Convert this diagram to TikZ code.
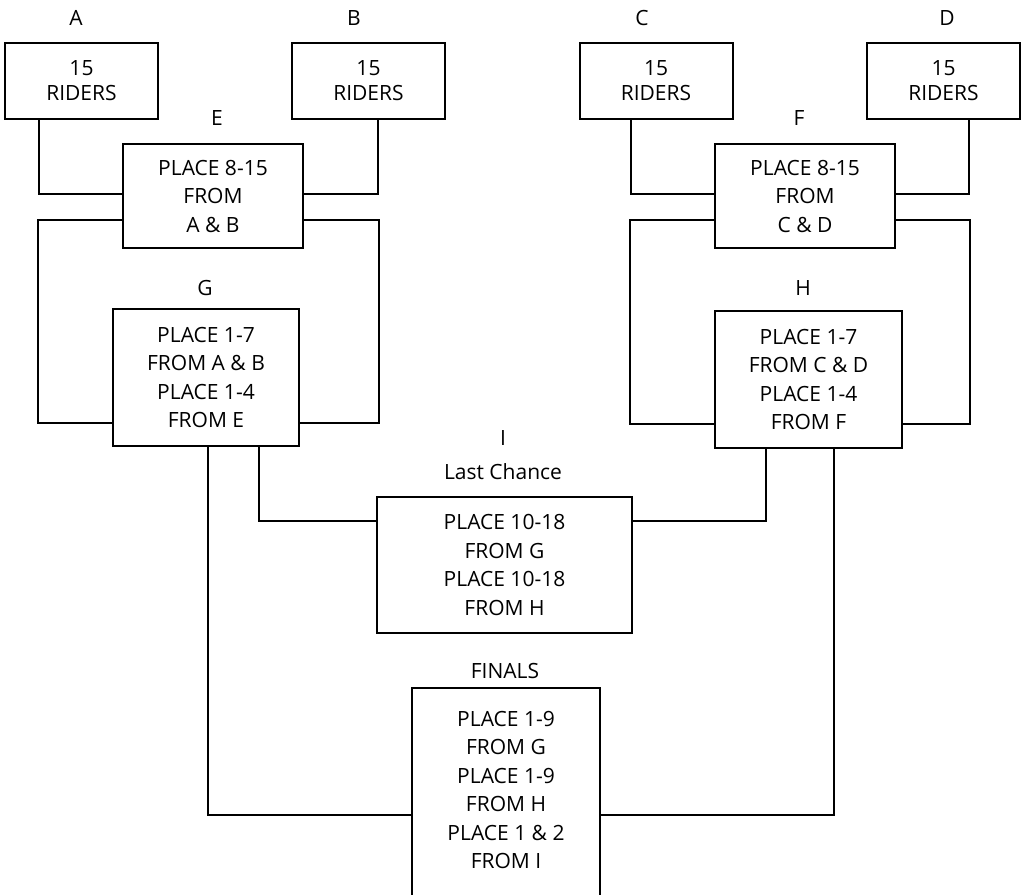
\documentclass[tikz,border=0pt]{standalone}
\usepackage{fontspec}
\setmainfont{Open Sans}
\usepackage{tikz}

\tikzset{
    box/.style={draw, line width=2pt, align=center, inner sep=0pt, font=\fontsize{21}{28.5}\selectfont},
    riders/.style={box, minimum width=153pt, minimum height=76pt, font=\fontsize{21}{25}\selectfont},
    tag/.style={inner sep=0pt, font=\fontsize{21}{25}\selectfont},
    wire/.style={line width=2pt}
}

\begin{document}
\begin{tikzpicture}[x=1pt, y=-1pt]
            \useasboundingbox (0,0) rectangle (1022,894);

            \foreach \n/\x/\lx in {A/81.5/76, B/368.5/354, C/656/642, D/943.5/947}
            {
                \node [riders] (\n) at (\x, 81) {15\\RIDERS};
                \node [tag] (tag\n) at (\lx, 18) {\n};
            }

            \node [box, minimum width=180pt, minimum height=104pt] (E) at (213,196) {PLACE 8-15\\FROM\\A \& B};
            \node [tag] (tagE) at (217,118) {E};
            \node [box, minimum width=180pt, minimum height=104pt] (F) at (805,196) {PLACE 8-15\\FROM\\C \& D};
            \node [tag] (tagF) at (799,118) {F};

            \node [box, minimum width=186pt, minimum height=137pt] (G) at (206,377.5) {PLACE 1-7\\FROM A \& B\\PLACE 1-4\\FROM E};
            \node [tag] (tagG) at (205,288) {G};
            \node [box, minimum width=187pt, minimum height=137pt] (H) at (808.5,379.5) {PLACE 1-7\\FROM C \& D\\PLACE 1-4\\FROM F};
            \node [tag] (tagH) at (803,288) {H};

            \node [box, minimum width=255pt, minimum height=136pt] (I) at (504.5,565) {PLACE 10-18\\FROM G\\PLACE 10-18\\FROM H};
            \node [tag] (tagI) at (503,438) {I};
            \node [tag] (lastchance) at (503,472) {Last Chance};

            \node [box, draw=none, minimum width=186pt, minimum height=202pt] (fin) at (506,790) {PLACE 1-9\\FROM G\\PLACE 1-9\\FROM H\\PLACE 1 \& 2\\FROM I};
            \node [tag] (tagfin) at (505,671) {FINALS};
            \draw [wire] ([yshift=-20pt]fin.south west) |- (fin.north) -| ([yshift=-20pt]fin.south east);

            \draw [wire] ([xshift=-42.5pt]A.south) |- ([yshift=2pt]E.west);
            \draw [wire] ([xshift=9.5pt]B.south) |- ([yshift=2pt]E.east);
            \draw [wire] ([xshift=-25pt]C.south) |- ([yshift=2pt]F.west);
            \draw [wire] ([xshift=25.5pt]D.south) |- ([yshift=2pt]F.east);

            \draw [wire] ([yshift=-24pt]E.west) -| ([xshift=-74pt, yshift=-45.5pt]G.west) -- ([yshift=-45.5pt]G.west);
            \draw [wire] ([yshift=-24pt]E.east) -| ([xshift=79pt, yshift=-45.5pt]G.east) -- ([yshift=-45.5pt]G.east);
            \draw [wire] ([yshift=-24pt]F.west) -| ([xshift=-84pt, yshift=-44.5pt]H.west) -- ([yshift=-44.5pt]H.west);
            \draw [wire] ([yshift=-24pt]F.east) -| ([xshift=67pt, yshift=-44.5pt]H.east) -- ([yshift=-44.5pt]H.east);

            \draw [wire] ([xshift=53pt]G.south) |- ([yshift=44pt]I.west);
            \draw [wire] ([xshift=-42.5pt]H.south) |- ([yshift=44pt]I.east);
            \draw [wire] ([xshift=2pt]G.south) |- ([yshift=-25pt]fin.west);
            \draw [wire] ([xshift=25.5pt]H.south) |- ([yshift=-25pt]fin.east);

           \end{tikzpicture}
\end{document}
